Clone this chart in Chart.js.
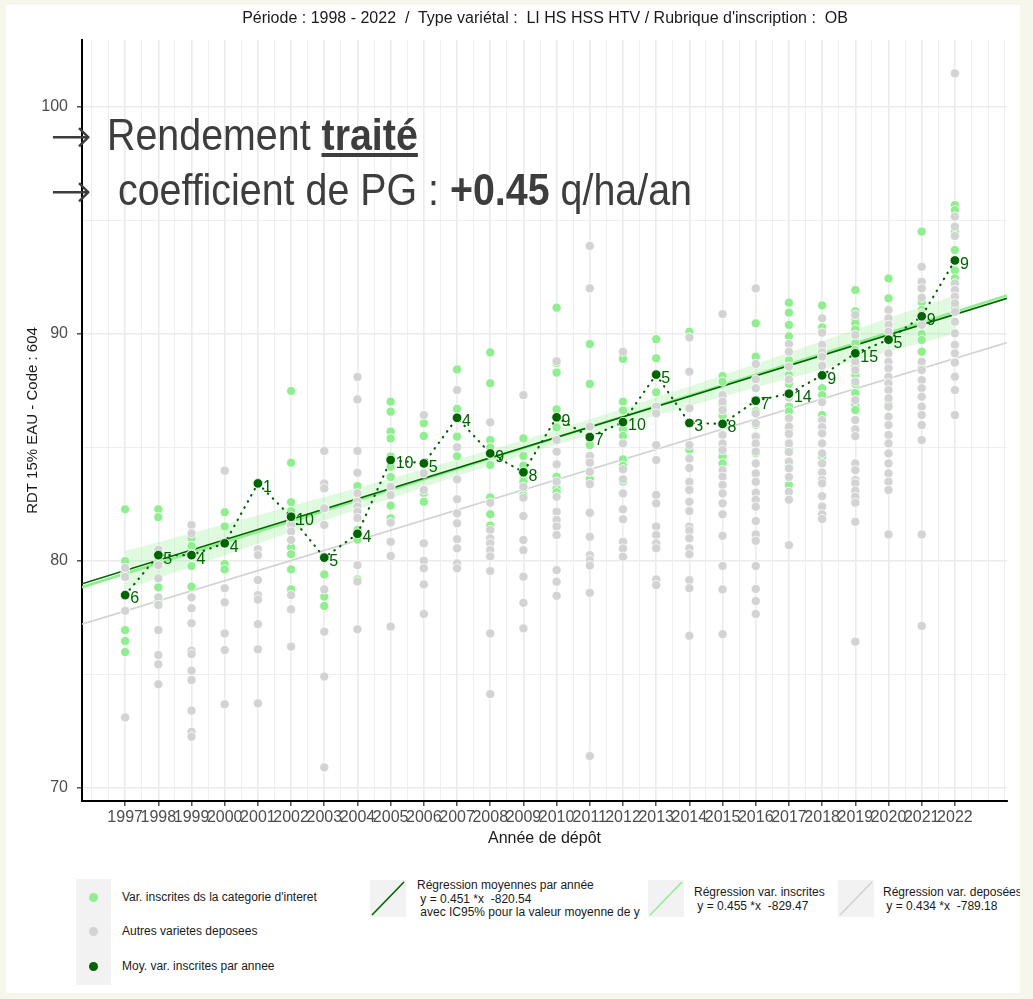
<!DOCTYPE html>
<html lang="fr">
<head>
<meta charset="utf-8">
<title>Rendement traité</title>
<script src="https://cdn.jsdelivr.net/npm/chart.js@4.4.1/dist/chart.umd.min.js"></script>
<style>
    html, body { margin: 0; padding: 0; }
    body {
        width: 1033px; height: 999px; position: relative; overflow: hidden;
        background: #f7f6ea;
        font-family: 'Liberation Sans', Arial, sans-serif;
        color: #1a1a1a;
    }
    #panel { position: absolute; left: 6px; top: 5px; width: 1014px; height: 988px; background: #fff; overflow: hidden; }
    #graph { position: absolute; left: 0; top: 0; }
    .titre { position: absolute; left: 0; width: 1090px; top: 9px; text-align: center; font-size: 16px; white-space: pre; }
    .annonce {
        position: absolute; font-size: 44px; color: #3d3d3d; white-space: pre; line-height: 1;
        transform: scaleX(0.895); transform-origin: left top;
    }
    .fleche {
        position: absolute; font-family: 'DejaVu Sans ExtraLight', 'DejaVu Sans', sans-serif; font-weight: 200;
        font-size: 50px; line-height: 50px; color: #3d3d3d;
    }
    .leg { position: absolute; font-size: 12px; white-space: pre; line-height: 13.5px; }
    .cle { position: absolute; background: #f2f2f2; }
    .pt { position: absolute; width: 9px; height: 9px; border-radius: 50%; }
</style>
</head>
<body>
<div id="panel">
    <!-- legende -->
    <div class="cle" style="left:70px; top:874px; width:35px; height:106px;"></div>
    <div class="pt" style="left:83px; top:888px; background:#90ee90;"></div>
    <div class="pt" style="left:83px; top:922px; background:#d3d3d3;"></div>
    <div class="pt" style="left:83px; top:957px; background:#006400;"></div>
    <div class="leg" style="left:116px; top:886px;">Var. inscrites ds la categorie d'interet</div>
    <div class="leg" style="left:116px; top:920px;">Autres varietes deposees</div>
    <div class="leg" style="left:116px; top:955px;">Moy. var. inscrites par annee</div>

    <svg class="cle" style="left:364px; top:875px;" width="36" height="37"><line x1="2" y1="35" x2="34" y2="2" stroke="#006400" stroke-width="1.6"/></svg>
    <div class="leg" style="left:411px; top:874px;">Régression moyennes par année
 y = 0.451 *x  -820.54
 avec IC95% pour la valeur moyenne de y</div>

    <svg class="cle" style="left:642px; top:875px;" width="36" height="37"><line x1="2" y1="35" x2="34" y2="2" stroke="#90ee90" stroke-width="1.6"/></svg>
    <div class="leg" style="left:688px; top:881px;">Régression var. inscrites
 y = 0.455 *x  -829.47</div>

    <svg class="cle" style="left:832px; top:875px;" width="36" height="37"><line x1="2" y1="35" x2="34" y2="2" stroke="#d3d3d3" stroke-width="1.6"/></svg>
    <div class="leg" style="left:877px; top:881px;">Régression var. deposées
 y = 0.434 *x  -789.18</div>
</div>

<canvas id="graph" width="1033" height="860"></canvas>

<div class="titre">Période : 1998 - 2022  /  Type variétal :  LI HS HSS HTV / Rubrique d'inscription :  OB</div>
<div class="fleche" style="left:50px; top:111px;">→</div>
<div class="annonce" style="left:107px; top:113px;">Rendement <b><u>traité</u></b></div>
<div class="fleche" style="left:50px; top:166px;">→</div>
<div class="annonce" style="left:107px; top:168px;"> coefficient de PG : <b>+0.45</b> q/ha/an</div>

<script>
    // Annees et bornes de l'axe x
    const years = [1997, 1998, 1999, 2000, 2001, 2002, 2003, 2004, 2005, 2006, 2007, 2008, 2009,
                   2010, 2011, 2012, 2013, 2014, 2015, 2016, 2017, 2018, 2019, 2020, 2021, 2022];
    const xLimits = [1995.7, 2023.57];
    const yLimits = [69.43, 102.95];
    const yTickLabels = [70, 80, 90, 100];

    // Moyennes des varietes inscrites et effectifs
    const moyennes = [78.50, 80.26, 80.26, 80.78, 83.42, 81.95, 80.15, 81.20, 84.45, 84.30, 86.31, 84.74, 83.91,
                      86.33, 85.46, 86.12, 88.21, 86.08, 86.04, 87.06, 87.37, 88.18, 89.15, 89.75, 90.78, 93.24];
    const effectifs = [6, 5, 4, 4, 1, 10, 5, 4, 10, 5, 4, 9, 8, 9, 7, 10, 5, 3, 8, 7, 14, 9, 15, 5, 9, 9];

    // Varietes inscrites (vert clair), une liste par annee
    const inscrites = [
        [82.28, 80.0, 79.45, 76.96, 76.48, 75.99],
        [82.28, 81.93, 80.0, 78.84, 78.25],
        [81.0, 80.66, 79.78, 78.87],
        [82.15, 81.52, 79.87, 79.63],
        [83.42],
        [87.49, 84.33, 82.59, 82.2, 81.9, 81.7, 80.6, 80.3, 79.63, 78.75],
        [83.2, 82.35, 79.41, 78.43, 78.02],
        [83.30, 81.37, 80.94, 79.19],
        [87.02, 86.58, 85.70, 85.40, 84.6, 84.15, 83.7, 83.0, 82.44, 81.88],
        [86.07, 85.51, 84.3, 83.0, 82.61],
        [88.44, 86.70, 85.48, 84.62],
        [89.19, 87.83, 85.33, 85.0, 84.7, 84.23, 82.8, 82.06, 81.56],
        [85.40, 84.63, 84.2, 83.9, 83.6, 83.49, 83.2, 82.9],
        [91.16, 88.72, 88.30, 86.68, 86.3, 85.89, 83.71, 83.2, 83.03],
        [89.56, 87.80, 85.5, 85.11, 84.5, 83.6, 82.1],
        [89.0, 88.9, 87.02, 86.63, 86.1, 85.8, 85.51, 84.48, 84.2, 83.5],
        [89.77, 88.93, 88.2, 87.43, 86.7],
        [90.10, 84.9, 83.2],
        [88.15, 87.90, 86.9, 86.4, 86.0, 85.0, 84.6, 84.30],
        [90.47, 89.0, 87.1, 86.6, 86.0, 85.5, 84.75],
        [91.38, 90.94, 90.40, 89.9, 88.85, 88.2, 87.8, 87.4, 86.80, 86.6, 85.8, 84.9, 84.2, 83.35],
        [91.26, 90.3, 89.3, 88.6, 88.2, 87.61, 87.31, 86.43, 84.6],
        [91.94, 91.0, 90.6, 90.47, 90.2, 89.9, 89.6, 89.3, 89.0, 88.6, 88.2, 87.8, 87.4, 86.9, 86.65],
        [92.45, 91.57, 89.7, 88.1, 86.9],
        [94.51, 92.0, 91.4, 91.06, 90.6, 90.0, 89.74, 89.22, 88.5],
        [95.68, 95.46, 94.5, 93.70, 93.2, 92.8, 92.45, 91.2, 89.5]
    ];

    // Autres varietes deposees (gris), une liste par annee
    const autres = [
        [79.7, 79.3, 77.81, 73.11],
        [80.5, 79.82, 79.24, 78.40, 78.06, 76.96, 75.86, 75.45, 74.57],
        [81.59, 81.22, 80.3, 78.4, 77.92, 77.26, 76.05, 75.9, 75.17, 74.76, 73.41, 72.48, 72.26],
        [83.98, 78.80, 78.18, 76.81, 76.08, 73.69],
        [80.52, 80.26, 79.16, 78.5, 78.3, 77.22, 76.11, 73.73],
        [81.59, 81.3, 80.93, 78.5, 77.87, 76.23],
        [84.85, 83.42, 83.2, 82.32, 81.59, 78.75, 76.89, 74.91, 70.91],
        [88.11, 87.12, 84.85, 83.89, 82.98, 82.61, 82.4, 82.17, 81.9, 79.82, 79.1, 76.99],
        [83.27, 82.9, 81.70, 80.85, 80.22, 77.11],
        [86.43, 83.86, 83.13, 80.78, 80.01, 79.68, 78.97, 77.67],
        [87.53, 85.01, 83.60, 82.72, 82.10, 81.66, 80.96, 80.56, 79.90, 79.68],
        [86.11, 82.57, 81.37, 81.0, 80.78, 80.48, 80.2, 79.56, 76.81, 74.14],
        [87.31, 83.27, 82.79, 81.98, 80.93, 80.48, 79.31, 78.16, 77.03],
        [88.8, 85.33, 84.82, 84.26, 83.5, 82.83, 82.17, 81.81, 81.52, 81.15, 79.60, 79.09, 78.47],
        [93.88, 92.01, 85.92, 84.63, 84.33, 83.93, 83.39, 82.13, 81.07, 80.26, 80.04, 79.8, 78.6, 71.41],
        [89.22, 85.18, 84.04, 83.6, 82.98, 82.28, 81.84, 80.85, 80.55, 80.19],
        [86.80, 86.5, 85.11, 84.45, 82.91, 82.54, 81.52, 81.15, 80.78, 80.56, 79.19, 78.94],
        [89.85, 88.34, 86.73, 86.1, 85.11, 84.52, 84.1, 83.49, 83.13, 82.61, 82.20, 81.52, 81.34, 81.0, 80.56, 80.3, 79.16, 78.80, 76.71],
        [90.88, 87.31, 87.02, 86.65, 85.55, 85.18, 84.89, 84.01, 83.71, 83.35, 82.98, 82.54, 82.06, 81.11, 79.78, 78.75, 76.78],
        [92.01, 88.68, 88.0, 87.61, 86.5, 86.07, 85.48, 85.18, 84.82, 84.30, 83.86, 83.49, 83.01, 82.7, 82.39, 81.76, 81.17, 80.89, 79.78, 78.77, 78.24, 77.67],
        [89.56, 89.22, 88.56, 88.0, 87.2, 86.29, 85.92, 85.60, 85.18, 84.8, 84.38, 84.08, 83.7, 83.05, 82.7, 80.70],
        [90.69, 90.06, 89.52, 89.2, 89.0, 88.6, 87.0, 86.21, 85.9, 85.62, 85.18, 84.74, 84.30, 83.9, 83.57, 83.42, 82.86, 82.4, 82.06, 81.85],
        [90.84, 89.96, 88.78, 88.41, 87.90, 87.09, 86.21, 85.80, 85.5, 84.30, 84.0, 83.57, 83.42, 83.1, 82.83, 82.57, 81.73, 76.45],
        [91.06, 90.69, 90.40, 90.1, 89.15, 88.78, 88.49, 88.12, 87.83, 87.53, 87.17, 86.80, 86.36, 85.99, 85.55, 85.18, 84.74, 84.30, 83.86, 83.49, 83.13, 81.17],
        [92.96, 92.30, 92.01, 91.6, 90.9, 90.4, 88.78, 88.41, 87.97, 87.61, 87.24, 86.80, 86.43, 85.99, 85.33, 81.17, 77.14],
        [101.48, 95.17, 94.73, 94.32, 92.23, 91.94, 91.64, 91.35, 90.98, 90.54, 90.03, 89.52, 89.15, 88.74, 88.12, 87.53, 86.43]
    ];

    // Droites de regression, valeurs lues aux deux bords de l'axe x
    const regMoyennes = [79.0, 91.57];
    const regInscrites = [78.85, 91.70];
    const regDeposees = [77.22, 89.62];

    // IC95% de la droite des moyennes
    const icHaut = [80.44, 80.83, 81.23, 81.62, 82.02, 82.42, 82.82, 83.23, 83.63, 84.05, 84.47, 84.89, 85.33,
                    85.78, 86.24, 86.72, 87.21, 87.69, 88.18, 88.68, 89.18, 89.69, 90.19, 90.70, 91.20, 91.71];
    const icBas = [78.74, 79.25, 79.75, 80.26, 80.76, 81.28, 81.78, 82.27, 82.77, 83.25, 83.74, 84.21, 84.67,
                   85.12, 85.56, 86.00, 86.41, 86.83, 87.24, 87.64, 88.04, 88.43, 88.83, 89.22, 89.62, 90.01];

    const FONT = "'Liberation Sans', Arial, sans-serif";

    const nuage = (listes) => listes.flatMap((vals, i) => vals.map(v => ({ x: years[i], y: v })));
    const droite = (vals) => xLimits.map((x, i) => ({ x: x, y: vals[i] }));
    const parAnnee = (vals) => years.map((x, i) => ({ x: x, y: vals[i] }));

    // demi-annees pour la grille secondaire
    const xTicks = [];
    for (let v = 1996; v <= 2023.5; v += 0.5) xTicks.push(v);
    const isYear = (v) => Number.isInteger(v) && v >= years[0] && v <= years[years.length - 1];

    const etiquettesEffectifs = {
        id: 'etiquettesEffectifs',
        afterDatasetsDraw(chart) {
            const idx = chart.data.datasets.findIndex(d => d.label === 'moyennes');
            const meta = chart.getDatasetMeta(idx);
            const ctx = chart.ctx;
            ctx.save();
            ctx.font = '16px ' + FONT;
            ctx.fillStyle = '#006400';
            ctx.textAlign = 'left';
            ctx.textBaseline = 'middle';
            meta.data.forEach((pt, i) => {
                ctx.fillText(String(effectifs[i]), pt.x + 5, pt.y + 4);
            });
            ctx.restore();
        }
    };

    const ctx = document.getElementById('graph').getContext('2d');
    new Chart(ctx, {
        type: 'scatter',
        data: {
            datasets: [
                {
                    label: 'icHaut', data: parAnnee(icHaut), showLine: true, fill: '+1',
                    backgroundColor: 'rgba(144, 238, 144, 0.28)', borderWidth: 0, pointRadius: 0, order: 10
                },
                {
                    label: 'icBas', data: parAnnee(icBas), showLine: true, fill: false,
                    borderWidth: 0, pointRadius: 0, order: 10
                },
                {
                    label: 'regDeposees', data: droite(regDeposees), showLine: true,
                    borderColor: '#d3d3d3', borderWidth: 1.6, pointRadius: 0, order: 9
                },
                {
                    label: 'regInscrites', data: droite(regInscrites), showLine: true,
                    borderColor: '#90ee90', borderWidth: 2.6, pointRadius: 0, order: 8
                },
                {
                    label: 'regMoyennes', data: droite(regMoyennes), showLine: true,
                    borderColor: '#006400', borderWidth: 1.6, pointRadius: 0, order: 7
                },
                {
                    label: 'inscrites', data: nuage(inscrites),
                    backgroundColor: '#90ee90', borderColor: '#ffffff', borderWidth: 0.8,
                    pointRadius: 4.6, order: 6
                },
                {
                    label: 'autres', data: nuage(autres),
                    backgroundColor: '#d3d3d3', borderColor: '#ffffff', borderWidth: 0.8,
                    pointRadius: 4.6, order: 5
                },
                {
                    label: 'moyennes', data: parAnnee(moyennes), showLine: true,
                    borderColor: '#006400', borderWidth: 2.2, borderDash: [0.5, 6.5], borderCapStyle: 'round',
                    pointBackgroundColor: '#006400', pointBorderColor: '#ffffff', pointBorderWidth: 0.8,
                    pointRadius: 4.8, order: 4
                }
            ]
        },
        options: {
            responsive: false,
            animation: false,
            devicePixelRatio: 1,
            layout: { padding: { left: 20, right: 26, top: 40, bottom: 0 } },
            plugins: {
                legend: { display: false },
                tooltip: { enabled: false },
                title: { display: false }
            },
            scales: {
                x: {
                    type: 'linear',
                    min: xLimits[0],
                    max: xLimits[1],
                    afterBuildTicks: (scale) => { scale.ticks = xTicks.map(v => ({ value: v })); },
                    afterFit: (scale) => { scale.height = 59; },
                    border: { display: true, color: '#000000', width: 2 },
                    grid: {
                        color: '#ebebeb',
                        lineWidth: (c) => isYear(c.tick.value) ? 1.6 : 0.8,
                        tickColor: (c) => isYear(c.tick.value) ? '#333333' : 'rgba(0,0,0,0)',
                        tickWidth: 1.3,
                        tickLength: 5
                    },
                    ticks: {
                        autoSkip: false, maxRotation: 0, minRotation: 0, padding: 2,
                        color: '#4d4d4d',
                        font: { family: FONT, size: 16 },
                        callback: (v) => isYear(v) ? String(v) : ''
                    },
                    title: {
                        display: true, text: 'Année de dépôt', color: '#1a1a1a',
                        font: { family: FONT, size: 16 }, padding: { top: 2, bottom: 12 }
                    }
                },
                y: {
                    type: 'linear',
                    min: yLimits[0],
                    max: yLimits[1],
                    afterBuildTicks: (scale) => {
                        const t = [];
                        for (let v = 70; v <= 100; v += 5) t.push({ value: v });
                        scale.ticks = t;
                    },
                    afterFit: (scale) => { scale.width = 62; },
                    border: { display: true, color: '#000000', width: 2 },
                    grid: {
                        color: '#ebebeb',
                        lineWidth: (c) => yTickLabels.includes(c.tick.value) ? 1.6 : 0.8,
                        tickColor: (c) => yTickLabels.includes(c.tick.value) ? '#333333' : 'rgba(0,0,0,0)',
                        tickWidth: 1.3,
                        tickLength: 5
                    },
                    ticks: {
                        padding: 9,
                        color: '#4d4d4d',
                        font: { family: FONT, size: 16 },
                        callback: (v) => yTickLabels.includes(v) ? String(v) : ''
                    },
                    title: {
                        display: true, text: 'RDT 15% EAU - Code : 604', color: '#1a1a1a',
                        font: { family: FONT, size: 15 }, padding: { top: 4, bottom: 4 }
                    }
                }
            }
        },
        plugins: [etiquettesEffectifs]
    });
</script>
</body>
</html>
